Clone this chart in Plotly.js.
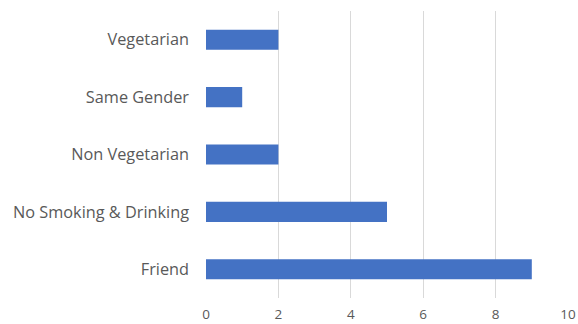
<!DOCTYPE html>
<html>
<head>
<meta charset="utf-8">
<script src="https://cdn.plot.ly/plotly-3.0.1.min.js"></script>
<style>html,body{margin:0;padding:0;background:#fff;}#chart{width:578px;height:324px;}</style>
</head>
<body>
<div id="chart"></div>
<script>
const categories = ["Friend", "No Smoking & Drinking", "Non Vegetarian", "Same Gender", "Vegetarian"];
const counts = [9, 5, 2, 1, 2];
const xTicks = [0, 2, 4, 6, 8, 10];

const trace = {
  type: "bar",
  orientation: "h",
  y: categories,
  x: counts,
  marker: {color: "#4472C4"},
  hoverinfo: "x+y"
};

const layout = {
  width: 578,
  height: 324,
  margin: {l: 206, r: 10, t: 11, b: 26, pad: 0},
  paper_bgcolor: "#ffffff",
  plot_bgcolor: "#ffffff",
  bargap: 0.65,
  showlegend: false,
  font: {family: "Open Sans, Noto Sans, sans-serif", size: 15, color: "#595959"},
  xaxis: {
    range: [0, 10],
    tickvals: xTicks,
    ticktext: xTicks.map(String),
    showgrid: true,
    gridcolor: "#d9d9d9",
    gridwidth: 1,
    zeroline: false,
    showline: false,
    ticks: "",
    ticklabelstandoff: 6,
    tickfont: {size: 13.5, color: "#595959"},
    fixedrange: true
  },
  yaxis: {
    type: "category",
    categoryorder: "array",
    categoryarray: categories,
    showgrid: false,
    zeroline: false,
    showline: false,
    ticks: "",
    ticklabelstandoff: 16,
    tickfont: {size: 16.3, color: "#595959"},
    fixedrange: true
  }
};

Plotly.newPlot("chart", [trace], layout, {displayModeBar: false, staticPlot: true});
</script>
</body>
</html>
